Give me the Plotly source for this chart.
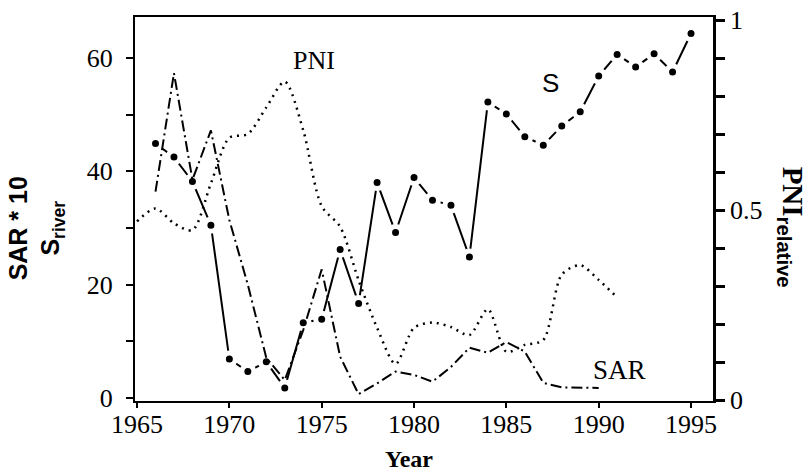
import plotly.graph_objects as go

# ---- data ----
years_s = list(range(1966, 1996))
s_river = [44.9, 42.5, 38.2, 30.5, 6.9, 4.7, 6.4, 1.8, 13.3, 13.9,
           26.2, 16.7, 38.0, 29.2, 38.9, 34.9, 34.0, 24.9, 52.2, 50.1,
           46.1, 44.6, 48.0, 50.5, 56.8, 60.6, 58.4, 60.7, 57.5, 64.3]

years_sar = list(range(1966, 1991))
sar_x10 = [36.4, 57.3, 38.5, 47.2, 31.4, 20.0, 7.1, 3.2, 12.0, 22.7,
           7.3, 0.7, 2.6, 4.7, 4.1, 2.9, 5.5, 8.9, 8.0, 9.9,
           8.2, 2.7, 1.9, 1.8, 1.8]

years_pni = list(range(1965, 1992))
pni_rel = [0.47, 0.504, 0.465, 0.447, 0.57, 0.69, 0.70, 0.77, 0.838, 0.71,
           0.51, 0.456, 0.315, 0.19, 0.095, 0.19, 0.204, 0.192, 0.171, 0.239,
           0.127, 0.145, 0.158, 0.33, 0.355, 0.316, 0.27]

x_ticks = [1965, 1970, 1975, 1980, 1985, 1990, 1995]
left_ticks = [0, 20, 40, 60]
right_ticks = [0, 0.5, 1]
right_labels = ["0", "0.5", "1"]

SERIF = "Liberation Serif"
SANS = "Liberation Sans"

fig = go.Figure()

# S (river) : solid line broken around each dot
fig.add_trace(go.Scatter(
    x=years_s, y=s_river, mode="lines+markers", yaxis="y",
    line=dict(color="black", width=2),
    marker=dict(color="black", size=12, line=dict(color="white", width=5)),
    showlegend=False))

# PNI relative : dotted, right axis
fig.add_trace(go.Scatter(
    x=years_pni, y=pni_rel, mode="lines", yaxis="y2",
    line=dict(color="black", width=2.5, dash="2px,5px", shape="spline", smoothing=0.8),
    showlegend=False))

# SAR * 10 : dash-dot
fig.add_trace(go.Scatter(
    x=years_sar, y=sar_x10, mode="lines", yaxis="y",
    line=dict(color="black", width=2, dash="11px,4px,2px,4px"),
    showlegend=False))

axis_font = dict(family=SERIF, size=26, color="black")

fig.update_layout(
    width=811, height=471,
    margin=dict(l=135, r=98, t=17, b=70),
    paper_bgcolor="white", plot_bgcolor="white",
    xaxis=dict(range=[1964.89, 1996.19], tickvals=x_ticks,
               showgrid=False, zeroline=False, automargin=False,
               showline=True, linecolor="black", linewidth=2, mirror=True,
               ticks="outside", ticklen=5, tickwidth=2, tickcolor="black",
               ticklabelstandoff=-6,
               tickfont=axis_font),
    yaxis=dict(range=[-0.5, 67.2], tickvals=left_ticks, automargin=False,
               showgrid=False, zeroline=False,
               showline=True, linecolor="black", linewidth=2,
               ticks="outside", ticklen=7, tickwidth=2, tickcolor="black",
               ticklabelstandoff=8,
               minor=dict(dtick=10, tick0=0, ticks="outside", ticklen=7,
                          tickwidth=2, tickcolor="black", showgrid=False),
               tickfont=axis_font),
    yaxis2=dict(range=[-0.0026, 1.0079], tickvals=right_ticks, ticktext=right_labels,
                overlaying="y", side="right", automargin=False,
                showgrid=False, zeroline=False,
                showline=True, linecolor="black", linewidth=2.5,
                ticks="outside", ticklen=9, tickwidth=3, tickcolor="black",
                minor=dict(dtick=0.1, tick0=0, ticks="outside", ticklen=9,
                           tickwidth=3, tickcolor="black", showgrid=False),
                tickfont=dict(family=SERIF, size=26, color="black")),
    annotations=[
        dict(text="PNI", x=0.3097, y=0.888, xref="paper", yref="paper",
             xanchor="center", yanchor="middle",
             showarrow=False, font=dict(family=SERIF, size=26, color="black")),
        dict(text="S", x=0.718, y=0.828, xref="paper", yref="paper",
             xanchor="center", yanchor="middle",
             showarrow=False, font=dict(family=SANS, size=26, color="black")),
        dict(text="SAR", x=0.839, y=0.0807, xref="paper", yref="paper",
             xanchor="center", yanchor="middle",
             showarrow=False, font=dict(family=SERIF, size=27, color="black")),
        dict(text="<b>Year</b>", x=0.474, y=-0.151, xref="paper", yref="paper",
             xanchor="center", yanchor="middle",
             showarrow=False, font=dict(family=SERIF, size=24, color="black")),
        dict(text="<b>SAR * 10</b><br><b>S<sub>river</sub></b>", x=-0.171, y=0.45,
             xref="paper", yref="paper", textangle=-90, showarrow=False,
             xanchor="center", yanchor="middle",
             font=dict(family=SANS, size=25, color="black")),
        dict(text="<b>PNI</b><b><sub><span style=\"font-family:Liberation Sans\">relative</span></sub></b>",
             x=1.135, y=0.454,
             xref="paper", yref="paper", textangle=90, showarrow=False,
             xanchor="center", yanchor="middle",
             font=dict(family=SERIF, size=29, color="black")),
    ],
)

fig.write_html("out.html",
               config={"displayModeBar": False},
               post_script="document.body.style.margin='0';document.body.style.overflow='hidden';")
